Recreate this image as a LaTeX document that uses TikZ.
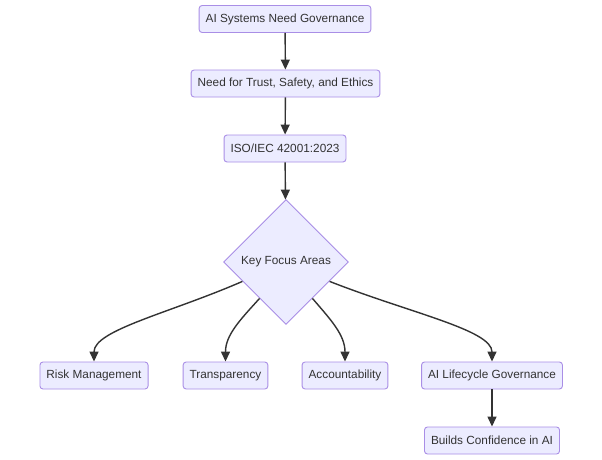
\documentclass[tikz,border=0pt]{standalone}
\usepackage{fontspec}
\setmainfont{Liberation Sans}
\usetikzlibrary{shapes.geometric,arrows.meta}
\definecolor{boxfill}{HTML}{ECECFF}
\definecolor{boxline}{HTML}{A98EE6}
\definecolor{ink}{HTML}{333333}
\tikzset{
  box/.style={draw=boxline, fill=boxfill, line width=0.9pt, rounded corners=3pt,
    minimum height=27pt, inner xsep=6.5pt, inner ysep=0pt, text=ink, font=\fontsize{11.8}{13}\selectfont},
  decision/.style={diamond, draw=boxline, fill=boxfill, line width=0.9pt, aspect=1,
    minimum size=125pt, inner sep=0pt, text=ink, font=\fontsize{11.8}{13}\selectfont},
  link/.style={draw=ink, line width=1.4pt, -{Triangle[length=10pt,width=9pt]}}
}
\begin{document}
\begin{tikzpicture}[x=1pt,y=-1pt]
\useasboundingbox[fill=white] (0,0) rectangle (602,460);
\node[box] (a) at (285,19) {AI Systems Need Governance};
\node[box] (b) at (285.5,83.5) {Need for Trust, Safety, and Ethics};
\node[box] (c) at (285,148.5) {ISO/IEC 42001:2023};
\node[decision] (k) at (286,262) {Key Focus Areas};
\node[box] (r) at (94,375.5) {Risk Management};
\node[box] (t) at (225.5,375.5) {Transparency};
\node[box] (ac) at (345,375.5) {Accountability};
\node[box] (l) at (492,375.5) {AI Lifecycle Governance};
\node[box] (bc) at (492,440.5) {Builds Confidence in AI};
\draw[link] (a) -- (b);
\draw[link] (b) -- (c);
\draw[link] (c) -- (k);
\draw[link] (k.204) .. controls (170,313) and (94,330) .. (r.north);
\draw[link] (k.234) .. controls (240,320) and (225.5,335) .. (t.north);
\draw[link] (k.306) .. controls (331,320) and (345,335) .. (ac.north);
\draw[link] (k.336) .. controls (410,313) and (492,330) .. (l.north);
\draw[link] (l) -- (bc);
\end{tikzpicture}
\end{document}
